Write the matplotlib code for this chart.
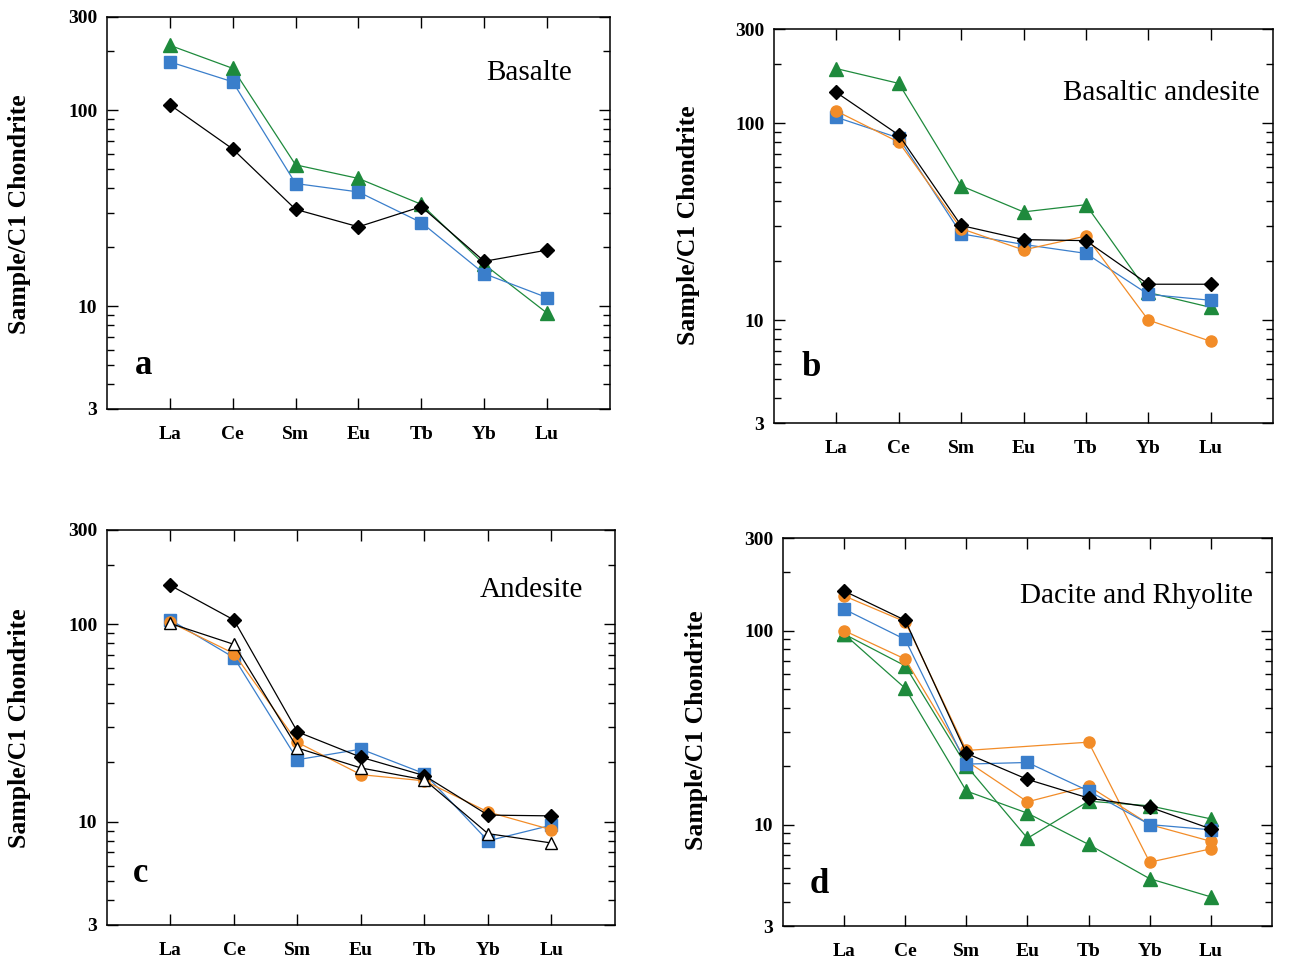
import numpy as np
import matplotlib
matplotlib.use('Agg')
import matplotlib.pyplot as plt
from matplotlib.ticker import FixedLocator, NullFormatter

plt.rcParams['font.family'] = ['Liberation Serif', 'DejaVu Serif']

elements = ['La', 'Ce', 'Sm', 'Eu', 'Tb', 'Yb', 'Lu']

# panel a - Basalte
a_green = [215, 164, 52.8, 45, 33.2, 16.4, 9.25]
a_blue = [177, 140, 42.4, 38.4, 26.8, 14.7, 11.1]
a_black = [107, 63.6, 31.3, 25.5, 32.3, 17.0, 19.4]

# panel b - Basaltic andesite
b_green = [189, 159, 48, 35.4, 38.5, 13.8, 11.6]
b_black = [143, 87, 30.2, 25.6, 25.3, 15.2, 15.2]
b_blue = [107, 84, 27.4, 24.2, 21.8, 13.5, 12.6]
b_orange = [115, 80, 29.1, 22.7, 26.7, 10.0, 7.8]

# panel c - Andesite
c_black = [157, 105, 28.5, 21.2, 17.1, 10.8, 10.7]
c_open = [100.8, 79, 23.6, 18.7, 16.3, 8.7, 7.8]
c_blue = [105, 67.7, 20.6, 23.3, 17.5, 8.0, 9.6]
c_orange = [102, 71, 25.2, 17.3, 16.1, 11.2, 9.1]

# panel d - Dacite and Rhyolite
d_black = [160, 113, 23.3, 17.1, 13.7, 12.3, 9.5]
d_orange1 = [151, 111, 24.1, np.nan, 26.6, 6.4, 7.5]
d_orange2 = [100, 71.3, 21.3, 13.1, 15.8, 10.0, 8.2]
d_blue = [129, 90, 20.5, 20.9, 14.9, 10.0, 9.4]
d_green1 = [96, 65.8, 20.1, 8.5, 13.2, 12.5, 10.7]
d_green2 = [96, 50.4, 14.9, 11.45, 7.9, 5.26, 4.24]

GREEN = '#1e8a3c'
BLUE = '#3a7ecb'
ORANGE = '#f28c28'
BLACK = '#000000'

styles = {
    'green': dict(color=GREEN, marker='^', ms=9.5, mfc=GREEN, mec=GREEN),
    'blue': dict(color=BLUE, marker='s', ms=8, mfc=BLUE, mec=BLUE),
    'orange': dict(color=ORANGE, marker='o', ms=8, mfc=ORANGE, mec=ORANGE),
    'black': dict(color=BLACK, marker='D', ms=7, mfc=BLACK, mec=BLACK),
    'open': dict(color=BLACK, marker='^', ms=8.5, mfc='white', mec=BLACK, mew=1.0),
}

fig = plt.figure(figsize=(12.92, 9.63), dpi=100)


def panel(rect, series, title, letter, title_xy, letter_xy):
    ax = fig.add_axes(rect)
    x = np.arange(1, len(elements) + 1)
    for vals, kind in series:
        v = np.array(vals, dtype=float)
        ok = ~np.isnan(v)
        ax.plot(x[ok], v[ok], lw=0.9, **styles[kind])
    ax.set_yscale('log')
    ax.set_ylim(3, 300)
    ax.set_xlim(0, 8)
    ax.set_xticks(x)
    ax.set_xticklabels(elements, fontweight='bold', fontsize=14)
    ax.yaxis.set_major_locator(FixedLocator([3, 10, 100, 300]))
    ax.set_yticklabels(['3', '10', '100', '300'], fontweight='bold', fontsize=14)
    minors = [4, 5, 6, 7, 8, 9, 20, 30, 40, 50, 60, 70, 80, 90, 200]
    ax.yaxis.set_minor_locator(FixedLocator(minors))
    ax.yaxis.set_minor_formatter(NullFormatter())
    ax.tick_params(axis='both', which='major', direction='in', length=8, width=1,
                   top=True, right=True)
    ax.tick_params(axis='both', which='minor', direction='in', length=5, width=1,
                   right=True)
    ax.tick_params(axis='x', pad=12)
    ax.tick_params(axis='y', pad=7)
    for s in ax.spines.values():
        s.set_linewidth(1.1)
    ax.text(title_xy[0], title_xy[1], title, transform=ax.transAxes, ha='right',
            va='center', fontsize=21)
    ax.text(letter_xy[0], letter_xy[1], letter, transform=ax.transAxes, ha='left',
            va='center', fontsize=25, fontweight='bold')
    return ax


panel([0.0828, 0.5753, 0.3893, 0.4071],
      [(a_green, 'green'), (a_blue, 'blue'), (a_black, 'black')],
      'Basalte', 'a', (0.924, 0.857), (0.055, 0.11))
panel([0.5991, 0.5607, 0.3862, 0.4091],
      [(b_green, 'green'), (b_blue, 'blue'), (b_orange, 'orange'), (b_black, 'black')],
      'Basaltic andesite', 'b', (0.974, 0.838), (0.055, 0.14))
panel([0.0828, 0.0395, 0.3932, 0.4102],
      [(c_blue, 'blue'), (c_orange, 'orange'), (c_black, 'black'), (c_open, 'open')],
      'Andesite', 'c', (0.937, 0.848), (0.05, 0.13))
panel([0.6060, 0.0384, 0.3785, 0.4029],
      [(d_green1, 'green'), (d_green2, 'green'), (d_orange1, 'orange'),
       (d_orange2, 'orange'), (d_blue, 'blue'), (d_black, 'black')],
      'Dacite and Rhyolite', 'd', (0.961, 0.851), (0.055, 0.108))

ylab = dict(rotation=90, ha='center', va='center', fontsize=18.5, fontweight='bold')
fig.text(20 / 1292, 1 - 214 / 963, 'Sample/C1 Chondrite', **ylab)
fig.text(688 / 1292, 1 - 225 / 963, 'Sample/C1 Chondrite', **ylab)
fig.text(20 / 1292, 1 - 728 / 963, 'Sample/C1 Chondrite', **ylab)
fig.text(697 / 1292, 1 - 730 / 963, 'Sample/C1 Chondrite', **ylab)

fig.savefig('out.png', dpi=100)
